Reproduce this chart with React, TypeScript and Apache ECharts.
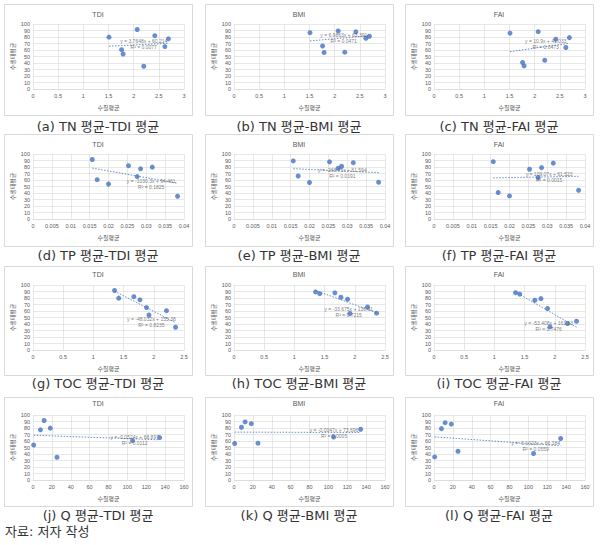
import React, { useEffect, useRef } from 'react';
import * as echarts from 'echarts';

// Biological indices per station (A..H)
const indexNames = ['TDI', 'BMI', 'FAI'];
const tdi = [91.5, 82, 79.8, 77.2, 65.3, 60.5, 53.8, 35];
const bmi = [89.3, 87.9, 86.6, 81.2, 78.1, 66.1, 56.2, 56.6];
const fai = [88.2, 76.5, 86, 79, 63.8, 40.8, 35.5, 44.2];

// Water quality per station (A..H); Q has no value for station B
const paramNames = ['TN', 'TP', 'TOC', 'Q'];
const tn = [2.07, 2.42, 1.51, 2.69, 2.62, 1.76, 1.79, 2.2];
const tp = [0.0157, 0.0253, 0.0316, 0.0285, 0.0276, 0.017, 0.02, 0.0383];
const toc = [1.35, 1.67, 1.42, 1.77, 1.88, 2.21, 1.92, 2.36];
const q = [11.8, null, 18.3, 7.9, 134.2, 105.5, 0.7, 25.4];

// x-axis ticks
const xMax = [3, 0.04, 2.5, 160];
const xInterval = [0.5, 0.005, 0.5, 20];

// Trendline equations
const slopes = [
  [3.7648, 6.9863, 10.9],
  [-1030.3, -268.75, 109.07],
  [-48.032, -33.675, -53.408],
  [-0.0524, -0.0047, -0.1023],
];
const intercepts = [
  [60.214, 63.391, 41.033],
  [94.461, 81.594, 61.523],
  [155.38, 136.91, 161.13],
  [68.897, 73.696, 66.384],
];
const r2 = [
  ['0.0077', '0.0471', '0.0473'],
  ['0.1825', '0.0191', '0.0015'],
  ['0.8235', '0.7215', '0.7476'],
  ['0.0112', '0.0005', '0.0559'],
];
const letters = ['a', 'b', 'c', 'd', 'e', 'f', 'g', 'h', 'i', 'j', 'k', 'l'];

// layout
const eqAnchor = [
  [[2.2, 70], [2.18, 79], [2.22, 69]],
  [[0.0313, 54], [0.0287, 70.8], [0.0305, 64.6]],
  [[1.96, 42.6], [1.9, 57.7], [1.9, 36.6]],
  [[107.7, 61.5], [106, 72.3], [107.7, 52.8]],
];
const W = 601;
const H = 545;
const boxLeft = [4, 205, 405];
const boxW = 188;
const plotW = 151;
const boxTop = [4, 134, 266, 397];
const boxBottom = [115, 246, 375, 506];
const plotTop = [24, 154, 285, 415];
const plotBottom = [89, 219, 350, 480];
const titleY = [14, 144, 274, 403];
const captionY = [126, 255, 383, 515];

const BLUE = '#4472C4';
const GREY = '#595959';
const GRID = '#d9d9d9';
const KFONT = '"Noto Sans CJK KR", "Noto Sans", sans-serif';
const CAPFONT = '"DejaVu Sans", "Noto Sans CJK KR", sans-serif';

export default function App() {
  const ref = useRef<HTMLDivElement>(null);
  useEffect(() => {
    if (!ref.current) return;
    const chart = echarts.init(ref.current, undefined, { renderer: 'svg' });
    const xs = [tn, tp, toc, q];
    const ys = [tdi, bmi, fai];
    const grids: any[] = [];
    const xAxes: any[] = [];
    const yAxes: any[] = [];
    const series: any[] = [];
    const graphic: any[] = [];
    for (let r = 0; r < 4; r++) {
      for (let c = 0; c < 3; c++) {
        const i = r * 3 + c;
        const left = boxLeft[c] + 29;
        grids.push({
          left,
          right: W - left - plotW,
          top: plotTop[r],
          bottom: H - plotBottom[r],
          containLabel: false,
          outerBoundsMode: 'none',
        });
        xAxes.push({
          gridIndex: i,
          type: 'value',
          min: 0,
          max: xMax[r],
          interval: xInterval[r],
          name: '수질평균',
          nameLocation: 'middle',
          nameGap: 15,
          nameTextStyle: { fontSize: 6, color: GREY, fontFamily: KFONT },
          axisLine: { show: true, lineStyle: { color: GRID, width: 0.8 } },
          axisTick: { show: false },
          axisLabel: {
            fontSize: 5.5,
            color: GREY,
            margin: 4,
            formatter: (v: number) => String(+v.toFixed(3)),
          },
          splitLine: { show: true, lineStyle: { color: GRID, width: 0.6 } },
        });
        yAxes.push({
          gridIndex: i,
          type: 'value',
          min: 0,
          max: 100,
          interval: 10,
          name: '수생태평균',
          nameLocation: 'middle',
          nameGap: 18,
          nameTextStyle: { fontSize: 6, color: GREY, fontFamily: KFONT },
          axisLine: { show: false },
          axisTick: { show: false },
          axisLabel: { fontSize: 5.5, color: GREY, margin: 3 },
          splitLine: { show: true, lineStyle: { color: GRID, width: 0.6 } },
        });
        const pts: number[][] = [];
        xs[r].forEach((xv, k) => {
          if (xv !== null) pts.push([xv as number, ys[c][k]]);
        });
        series.push({
          type: 'scatter',
          xAxisIndex: i,
          yAxisIndex: i,
          data: pts,
          symbolSize: 5,
          itemStyle: { color: BLUE },
          z: 3,
        });
        const xv = pts.map((p) => p[0]);
        const x0 = Math.min(...xv);
        const x1 = Math.max(...xv);
        const a = slopes[r][c];
        const b = intercepts[r][c];
        series.push({
          type: 'line',
          xAxisIndex: i,
          yAxisIndex: i,
          data: [
            [x0, a * x0 + b],
            [x1, a * x1 + b],
          ],
          symbol: 'none',
          lineStyle: { color: BLUE, width: 1, type: [1.5, 1.5], opacity: 0.8 },
          z: 2,
        });
        series.push({
          type: 'scatter',
          xAxisIndex: i,
          yAxisIndex: i,
          data: [eqAnchor[r][c]],
          symbolSize: 0,
          silent: true,
          z: 4,
          label: {
            show: true,
            position: 'inside',
            formatter: `y = ${a}x + ${b}\nR² = ${r2[r][c]}`,
            fontSize: 5,
            lineHeight: 6,
            color: GREY,
            align: 'center',
            verticalAlign: 'middle',
          },
        });
        graphic.push({
          type: 'rect',
          shape: {
            x: boxLeft[c] + 0.5,
            y: boxTop[r] + 0.5,
            width: boxW,
            height: boxBottom[r] - boxTop[r],
          },
          style: { fill: 'none', stroke: GRID, lineWidth: 1 },
          z: -1,
        });
        graphic.push({
          type: 'text',
          x: boxLeft[c] + boxW / 2,
          y: titleY[r],
          style: {
            text: indexNames[c],
            fontSize: 7,
            fill: GREY,
            align: 'center',
            verticalAlign: 'middle',
            fontFamily: 'Liberation Sans, sans-serif',
          },
        });
        graphic.push({
          type: 'text',
          x: boxLeft[c] + boxW / 2,
          y: captionY[r],
          style: {
            text: `(${letters[i]}) ${paramNames[r]} 평균-${indexNames[c]} 평균`,
            fontSize: 13,
            fill: '#333',
            align: 'center',
            verticalAlign: 'middle',
            fontFamily: CAPFONT,
          },
        });
      }
    }
    graphic.push({
      type: 'text',
      x: 5,
      y: 531,
      style: {
        text: '자료: 저자 작성',
        fontSize: 13,
        fill: '#333',
        align: 'left',
        verticalAlign: 'middle',
        fontFamily: CAPFONT,
      },
    });
    chart.setOption({
      animation: false,
      backgroundColor: '#fff',
      grid: grids,
      xAxis: xAxes,
      yAxis: yAxes,
      series,
      graphic,
    });
    return () => chart.dispose();
  }, []);
  return (
    <div
      ref={ref}
      style={{ position: 'fixed', left: 0, top: 0, width: W, height: H }}
    />
  );
}
